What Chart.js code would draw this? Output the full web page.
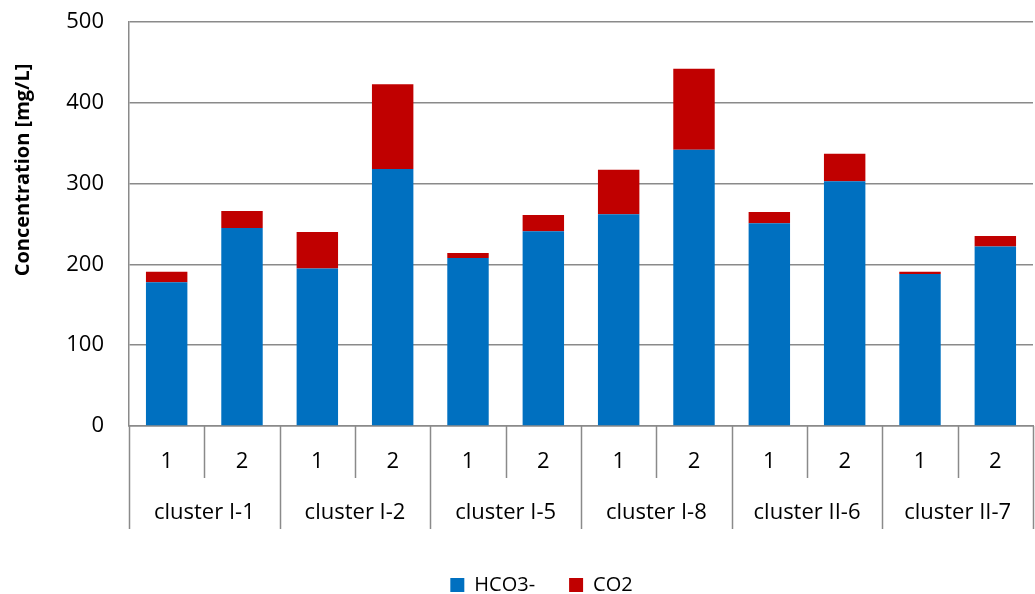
<!DOCTYPE html>
<html>
<head>
<meta charset="utf-8">
<script src="https://cdn.jsdelivr.net/npm/chart.js@4.4.1/dist/chart.umd.min.js"></script>
<style>
  html, body { margin: 0; padding: 0; background: #fff; }
  #wrap { width: 1035px; height: 594px; }
</style>
</head>
<body>
<div id="wrap"><canvas id="chart"></canvas></div>
<script>
const groups = ['cluster I-1', 'cluster I-2', 'cluster I-5', 'cluster I-8', 'cluster II-6', 'cluster II-7'];
const samples = ['1', '2'];
const hco3 = [178, 245, 195, 318, 208, 241, 262, 342, 251, 303, 188, 222];
const co2 = [13, 21, 45, 105, 6, 20, 55, 100, 14, 34, 3, 13];
const yTicks = [0, 100, 200, 300, 400, 500];
const yTitle = 'Concentration [mg/L]';

const gridColor = '#8a8a8a';
const fontFamily = '"Open Sans", sans-serif';

const labels = [];
groups.forEach((g) => {
  samples.forEach((s) => labels.push(g + ' ' + s));
});

// draws the two-row category axis (sample number + cluster name) and the y title
const groupAxis = {
  id: 'groupAxis',
  afterDraw(chart) {
    const ctx = chart.ctx;
    const x = chart.scales.x;
    const top = chart.chartArea.bottom;
    const step = x.getPixelForValue(1) - x.getPixelForValue(0);
    const first = x.getPixelForValue(0);

    ctx.save();
    ctx.strokeStyle = gridColor;
    ctx.lineWidth = 1.5;
    for (let i = 0; i <= labels.length; i++) {
      const bx = Math.round(first + (i - 0.5) * step) + 0.5;
      const len = i % samples.length === 0 ? 103 : 52;
      ctx.beginPath();
      ctx.moveTo(bx, top);
      ctx.lineTo(bx, top + len);
      ctx.stroke();
    }

    ctx.fillStyle = '#000';
    ctx.textAlign = 'center';
    ctx.textBaseline = 'middle';
    ctx.font = '22px ' + fontFamily;
    labels.forEach((l, i) => {
      ctx.fillText(samples[i % samples.length], x.getPixelForValue(i), top + 36);
    });
    groups.forEach((g, gi) => {
      const a = x.getPixelForValue(gi * samples.length);
      const b = x.getPixelForValue(gi * samples.length + samples.length - 1);
      ctx.fillText(g, (a + b) / 2, top + 87);
    });

    // y axis title, placed a bit above the middle like the original
    ctx.translate(23, chart.chartArea.top + 148);
    ctx.rotate(-Math.PI / 2);
    ctx.font = 'bold 20px ' + fontFamily;
    ctx.fillText(yTitle, 0, 0);
    ctx.restore();
  }
};

new Chart(document.getElementById('chart'), {
  type: 'bar',
  data: {
    labels: labels,
    datasets: [
      {
        label: 'HCO3-',
        data: hco3,
        backgroundColor: '#0070C0',
        borderWidth: 0,
        categoryPercentage: 1,
        barPercentage: 0.55
      },
      {
        label: 'CO2',
        data: co2,
        backgroundColor: '#C00000',
        borderWidth: 0,
        categoryPercentage: 1,
        barPercentage: 0.55
      }
    ]
  },
  options: {
    responsive: true,
    maintainAspectRatio: false,
    animation: false,
    layout: { padding: { top: 22, right: 2, left: 50, bottom: -11 } },
    plugins: {
      tooltip: { enabled: false },
      legend: {
        position: 'bottom',
        labels: {
          boxWidth: 14,
          boxHeight: 14,
          padding: 34,
          color: '#000',
          font: { family: fontFamily, size: 20 }
        }
      }
    },
    scales: {
      x: {
        stacked: true,
        offset: true,
        grid: { display: false, drawTicks: false },
        border: { display: true, color: gridColor, width: 1.5 },
        ticks: { display: false },
        afterFit(scale) { scale.height = 115; }
      },
      y: {
        stacked: true,
        min: 0,
        max: 500,
        afterBuildTicks(scale) { scale.ticks = yTicks.map((v) => ({ value: v })); },
        // invisible tick marks give the gap between labels and axis
        grid: { color: gridColor, lineWidth: 1.5, drawTicks: true, tickLength: 25, tickColor: 'rgba(0,0,0,0)' },
        border: { display: true, color: gridColor, width: 1.5 },
        ticks: {
          padding: 0,
          color: '#000',
          font: { family: fontFamily, size: 22 }
        },
        afterFit(scale) { scale.width = 79; }
      }
    }
  },
  plugins: [groupAxis]
});
</script>
</body>
</html>
